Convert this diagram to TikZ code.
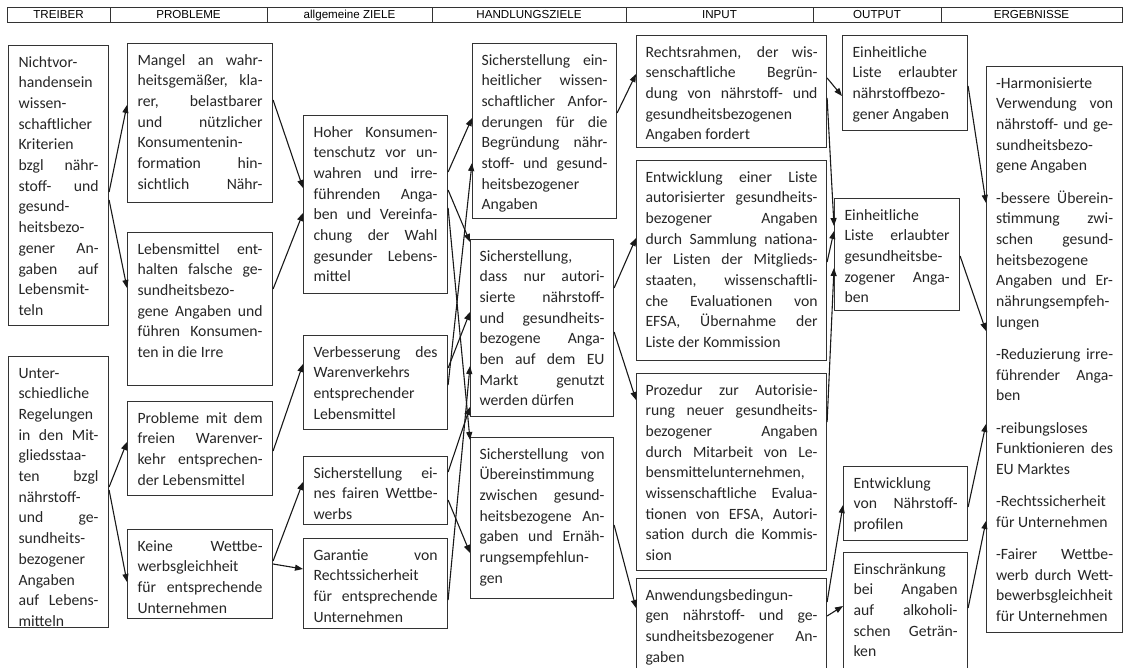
\documentclass[tikz,border=0pt]{standalone}
\usepackage{fontspec}
\setmainfont{Carlito}
\newfontfamily\kopffont{Liberation Sans}
\usepackage{xcolor}
\usepackage{tikz}
\usetikzlibrary{arrows.meta}

\tolerance=10000
\hbadness=10000
\vbadness=10000
\hfuzz=5pt
\vfuzz=30pt
\newcommand{\zellenschrift}{\fontsize{15.7}{20.7}\selectfont}
\newcommand{\kopfschrift}{\kopffont\fontsize{11.6}{13}\selectfont}
\newcommand{\zeltext}[3]{\parbox[c][#2][t]{#1}{\strut#3}}

\begin{document}
\begin{tikzpicture}[x=1pt, y=-1pt, >={Triangle[length=8pt, width=6pt]},
    zelle/.style={draw=black!80, line width=1.1pt, anchor=north west,
      inner xsep=10pt, inner ysep=7pt, text=black!85, font=\zellenschrift},
    kopf/.style={draw=black!80, line width=0.9pt, minimum height=15pt,
      inner sep=0pt, text height=8.3pt, text depth=0pt, font=\kopfschrift},
    pfeil/.style={->, line width=1.1pt, draw=black!90}]

    \useasboundingbox (0,0) rectangle (1126,668);

    % 1. 表头
    \node[kopf, minimum width=103pt] (kTreiber) at (58.5,14.5) {TREIBER};
    \node[kopf, minimum width=157pt] (kProbleme) at (188.5,14.5) {PROBLEME};
    \node[kopf, minimum width=165pt] (kZiele) at (349.5,14.5) {allgemeine ZIELE};
    \node[kopf, minimum width=194pt] (kHandlung) at (529,14.5) {HANDLUNGSZIELE};
    \node[kopf, minimum width=187pt] (kInput) at (719.5,14.5) {INPUT};
    \node[kopf, minimum width=128pt] (kOutput) at (877,14.5) {OUTPUT};
    \node[kopf, minimum width=181pt] (kErgebnis) at (1031.5,14.5) {ERGEBNISSE};

    % 2. Treiber
    \node[zelle] (t1) at (8,45) {\zeltext{80pt}{266pt}{Nichtvor-\linebreak handensein\linebreak wissen-\linebreak schaftlicher\linebreak Kriterien\linebreak bzgl nähr-\linebreak stoff- und\linebreak gesund-\linebreak heitsbezo-\linebreak gener An-\linebreak gaben auf\linebreak Lebensmit-\linebreak teln}};
    \node[zelle] (t2) at (8,356) {\zeltext{80pt}{257pt}{Unter-\linebreak schiedliche\linebreak Regelungen\linebreak in den Mit-\linebreak gliedsstaa-\linebreak ten bzgl\linebreak nährstoff-\linebreak und ge-\linebreak sundheits-\linebreak bezogener\linebreak Angaben\linebreak auf Lebens-\linebreak mitteln}};

    % 3. Probleme
    \node[zelle] (p1) at (127,43) {\zeltext{125pt}{145pt}{Mangel an wahr-\linebreak heitsgemäßer, kla-\linebreak rer, belastbarer\linebreak und nützlicher\linebreak Konsumentenin-\linebreak formation hin-\linebreak sichtlich Nähr-\linebreak}};
    \node[zelle] (p2) at (127,232) {\zeltext{125pt}{139pt}{Lebensmittel ent-\linebreak halten falsche ge-\linebreak sundheitsbezo-\linebreak gene Angaben und\linebreak führen Konsumen-\linebreak ten in die Irre}};
    \node[zelle] (p3) at (127,401) {\zeltext{125pt}{80pt}{Probleme mit dem\linebreak freien Warenver-\linebreak kehr entsprechen-\linebreak der Lebensmittel}};
    \node[zelle] (p4) at (127,529) {\zeltext{125pt}{75pt}{Keine Wettbe-\linebreak werbsgleichheit\linebreak für entsprechende\linebreak Unternehmen}};

    % 4. allgemeine Ziele
    \node[zelle] (z1) at (303,115) {\zeltext{124pt}{164pt}{Hoher Konsumen-\linebreak tenschutz vor un-\linebreak wahren und irre-\linebreak führenden Anga-\linebreak ben und Vereinfa-\linebreak chung der Wahl\linebreak gesunder Lebens-\linebreak mittel}};
    \node[zelle] (z2) at (303,335) {\zeltext{124pt}{80pt}{Verbesserung des\linebreak Warenverkehrs\linebreak entsprechender\linebreak Lebensmittel}};
    \node[zelle] (z3) at (303,456) {\zeltext{124pt}{54pt}{Sicherstellung ei-\linebreak nes fairen Wettbe-\linebreak werbs}};
    \node[zelle] (z4) at (303,538) {\zeltext{124pt}{76pt}{Garantie von\linebreak Rechtssicherheit\linebreak für entsprechende\linebreak Unternehmen}};

    % 5. Handlungsziele
    \node[zelle, inner xsep=9pt] (h1) at (472,43) {\zeltext{126pt}{161pt}{Sicherstellung ein-\linebreak heitlicher wissen-\linebreak schaftlicher Anfor-\linebreak derungen für die\linebreak Begründung nähr-\linebreak stoff- und gesund-\linebreak heitsbezogener\linebreak Angaben}};
    \node[zelle, inner xsep=9pt] (h2) at (470,239) {\zeltext{125pt}{163pt}{Sicherstellung,\linebreak dass nur autori-\linebreak sierte nährstoff-\linebreak und gesundheits-\linebreak bezogene Anga-\linebreak ben auf dem EU\linebreak Markt genutzt\linebreak werden dürfen}};
    \node[zelle, inner xsep=9pt] (h3) at (470,437) {\zeltext{125pt}{147pt}{Sicherstellung von\linebreak Übereinstimmung\linebreak zwischen gesund-\linebreak heitsbezogene An-\linebreak gaben und Ernäh-\linebreak rungsempfehlun-\linebreak gen}};

    % 6. Input
    \node[zelle, inner xsep=9pt] (i1) at (636,35) {\zeltext{172pt}{98pt}{Rechtsrahmen, der wis-\linebreak senschaftliche Begrün-\linebreak dung von nährstoff- und\linebreak gesundheitsbezogenen\linebreak Angaben fordert}};
    \node[zelle, inner xsep=9pt] (i2) at (636,160) {\zeltext{172pt}{186pt}{Entwicklung einer Liste\linebreak autorisierter gesundheits-\linebreak bezogener Angaben\linebreak durch Sammlung nationa-\linebreak ler Listen der Mitglieds-\linebreak staaten, wissenschaftli-\linebreak che Evaluationen von\linebreak EFSA, Übernahme der\linebreak Liste der Kommission}};
    \node[zelle, inner xsep=9pt] (i3) at (636,373) {\zeltext{172pt}{183pt}{Prozedur zur Autorisie-\linebreak rung neuer gesundheits-\linebreak bezogener Angaben\linebreak durch Mitarbeit von Le-\linebreak bensmittelunternehmen,\linebreak wissenschaftliche Evalua-\linebreak tionen von EFSA, Autori-\linebreak sation durch die Kommis-\linebreak sion}};
    \node[zelle, inner xsep=9pt] (i4) at (636,578) {\zeltext{172pt}{110pt}{Anwendungsbedingun-\linebreak gen nährstoff- und ge-\linebreak sundheitsbezogener An-\linebreak gaben}};

    % 7. Output
    \node[zelle] (o1) at (842,35) {\zeltext{105pt}{81pt}{Einheitliche\linebreak Liste erlaubter\linebreak nährstoffbezo-\linebreak gener Angaben}};
    \node[zelle] (o2) at (834,198) {\zeltext{105pt}{98pt}{Einheitliche\linebreak Liste erlaubter\linebreak gesundheitsbe-\linebreak zogener Anga-\linebreak ben}};
    \node[zelle] (o3) at (843,466) {\zeltext{104pt}{60pt}{Entwicklung\linebreak von Nährstoff-\linebreak profilen}};
    \node[zelle] (o4) at (843,552) {\zeltext{104pt}{134pt}{Einschränkung\linebreak bei Angaben\linebreak auf alkoholi-\linebreak schen Geträn-\linebreak ken}};

    % 8. Ergebnisse
    \node[zelle, inner xsep=9.5pt] (erg) at (986,66) {\zeltext{117pt}{552pt}{\setlength{\parskip}{11.5pt}-Harmonisierte\linebreak Verwendung von\linebreak nährstoff- und ge-\linebreak sundheitsbezo-\linebreak gene Angaben\par
      -bessere Überein-\linebreak stimmung zwi-\linebreak schen gesund-\linebreak heitsbezogene\linebreak Angaben und Er-\linebreak nährungsempfeh-\linebreak lungen\par
      -Reduzierung irre-\linebreak führender Anga-\linebreak ben\par
      -reibungsloses\linebreak Funktionieren des\linebreak EU Marktes\par
      -Rechtssicherheit\linebreak für Unternehmen\par
      -Fairer Wettbe-\linebreak werb durch Wett-\linebreak bewerbsgleichheit\linebreak für Unternehmen}};

    % 9. 连接线
    \draw[pfeil] (t1.east |- 0,192) -- (p1.west |- 0,105);
    \draw[pfeil] (t1.east |- 0,200) -- (p2.west |- 0,288);
    \draw[pfeil] (t2.east |- 0,487) -- (p3.west |- 0,442);
    \draw[pfeil] (t2.east |- 0,490) -- (p4.west |- 0,582);

    \draw[pfeil] (p1.east |- 0,100) -- (z1.west |- 0,188);
    \draw[pfeil] (p2.east |- 0,289) -- (z1.west |- 0,213);
    \draw[pfeil] (p3.east |- 0,451) -- (z2.west |- 0,364);
    \draw[pfeil] (p4.east |- 0,561) -- (z3.west |- 0,482);
    \draw[pfeil] (p4.east |- 0,564) -- (z4.west |- 0,569);

    \draw[pfeil] (z1.east |- 0,172) -- (h1.west |- 0,118);
    \draw[pfeil] (z1.east |- 0,190) -- (h2.west |- 0,242);
    \draw[pfeil] (z1.east |- 0,208) -- (h3.west |- 0,440);
    \draw[pfeil] (z2.east |- 0,385) -- (h1.west |- 0,163);
    \draw[pfeil] (z2.east |- 0,368) -- (h2.west |- 0,312);
    \draw[pfeil] (z3.east |- 0,472) -- (h2.west |- 0,407);
    \draw[pfeil] (z3.east |- 0,500) -- (h3.west |- 0,553);
    \draw[pfeil] (z4.east |- 0,600) -- (h2.west |- 0,366);

    \draw[pfeil] (h1.east |- 0,113) -- (i1.west |- 0,74);
    \draw[pfeil] (h2.east |- 0,288) -- (i2.west |- 0,238);
    \draw[pfeil] (h2.east |- 0,332) -- (i3.west |- 0,400);
    \draw[pfeil] (h3.east |- 0,525) -- (i4.west |- 0,608);

    \draw[pfeil] (i1.east |- 0,78) -- (o1.west |- 0,96);
    \draw[pfeil] (i1.east |- 0,98) -- (o2.west |- 0,226);
    \draw[pfeil] (i2.east |- 0,262) -- (o2.west |- 0,231);
    \draw[pfeil] (i3.east |- 0,422) -- (o2.west |- 0,268);
    \draw[pfeil] (i4.east |- 0,602) -- (o3.west |- 0,505);
    \draw[pfeil] (i4.east |- 0,616) -- (o4.west |- 0,606);

    \draw[pfeil] (o1.east |- 0,86) -- (erg.west |- 0,203);
    \draw[pfeil] (o2.east |- 0,256) -- (erg.west |- 0,331);
    \draw[pfeil] (o3.east |- 0,507) -- (erg.west |- 0,424);
    \draw[pfeil] (o4.east |- 0,608) -- (erg.west |- 0,521);

\end{tikzpicture}
\end{document}
